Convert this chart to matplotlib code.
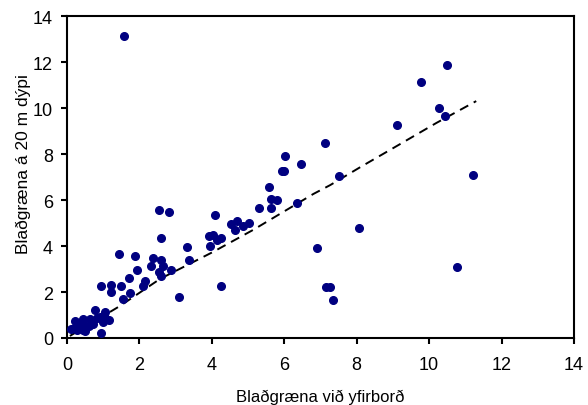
import matplotlib
matplotlib.use("Agg")
import matplotlib.pyplot as plt

plt.rcParams["font.family"] = ["Liberation Sans", "DejaVu Sans"]

# chlorophyll at surface (x) vs at 20 m depth (y)
surface = [
    1.57, 9.78, 10.50, 10.28, 10.44, 11.22, 10.77, 9.12, 8.06, 6.90,
    7.15, 7.25, 7.35, 7.13, 7.51, 6.02, 5.93, 6.00, 6.46, 5.58,
    5.64, 5.80, 5.30, 5.64, 6.35, 4.09, 4.53, 4.70, 4.64, 4.86,
    5.03, 3.92, 4.03, 4.14, 4.25, 3.95, 2.54, 2.82, 2.60, 3.31,
    3.37, 1.44, 1.88, 2.38, 2.32, 2.60, 2.65, 2.87, 1.93, 2.54,
    2.60, 1.71, 2.15, 2.10, 0.94, 1.22, 1.22, 1.49, 1.74, 3.09,
    1.55, 4.25, 0.77, 1.05, 1.02, 1.16, 0.97, 0.83, 0.91, 0.99,
    0.94, 0.22, 0.44, 0.44, 0.64, 0.69, 0.11, 0.22, 0.28, 0.39,
    0.44, 0.50, 0.61, 0.72, 0.33,
]
depth20 = [
    13.13, 11.12, 11.85, 10.02, 9.67, 7.09, 3.09, 9.24, 4.80, 3.92,
    2.20, 2.20, 1.65, 8.48, 7.04, 7.91, 7.26, 7.28, 7.57, 6.57,
    6.04, 6.00, 5.65, 5.65, 5.87, 5.35, 4.96, 5.09, 4.70, 4.87,
    5.00, 4.43, 4.48, 4.26, 4.35, 4.00, 5.57, 5.48, 4.35, 3.96,
    3.40, 3.65, 3.57, 3.48, 3.13, 3.40, 3.13, 2.96, 2.96, 2.87,
    2.70, 2.61, 2.48, 2.26, 2.26, 2.30, 2.00, 2.26, 1.96, 1.80,
    1.70, 2.28, 1.22, 1.13, 1.00, 0.78, 0.83, 0.87, 0.90, 0.70,
    0.20, 0.74, 0.83, 0.65, 0.83, 0.65, 0.39, 0.43, 0.35, 0.43,
    0.35, 0.30, 0.52, 0.61, 0.61,
]

# dashed fit line
fit_x = [0.08, 1.46, 2.57, 4.03, 5.14, 5.97, 6.80, 7.27, 8.10, 9.00, 10.20, 11.30]
fit_y = [0.09, 1.39, 2.57, 3.74, 4.70, 5.48, 6.26, 6.65, 7.43, 8.25, 9.35, 10.30]

ticks = [0, 2, 4, 6, 8, 10, 12, 14]

fig = plt.figure(figsize=(5.88, 4.06), dpi=100)
ax = fig.add_axes([67 / 588, 67 / 406, 507 / 588, 322 / 406])

ax.plot(surface, depth20, "o", color="#000080", ms=5.5, mec="#000080", zorder=3)
ax.plot(fit_x, fit_y, color="black", lw=1.4, dashes=(4.8, 3.2), zorder=2)

ax.set_xlim(0, 14)
ax.set_ylim(0, 14)
ax.set_xticks(ticks)
ax.set_yticks(ticks)
for s in ax.spines.values():
    s.set_linewidth(1.5)
ax.tick_params(direction="out", length=4, width=1.5, labelsize=13)
ax.tick_params(axis="x", pad=9)
ax.tick_params(axis="y", pad=6)

ax.set_xlabel("Blaðgræna við yfirborð", fontsize=12, labelpad=11)
ax.set_ylabel("Blaðgræna á 20 m dýpi", fontsize=12.5, labelpad=1.5, y=0.543)

fig.savefig("out.png", dpi=100)
